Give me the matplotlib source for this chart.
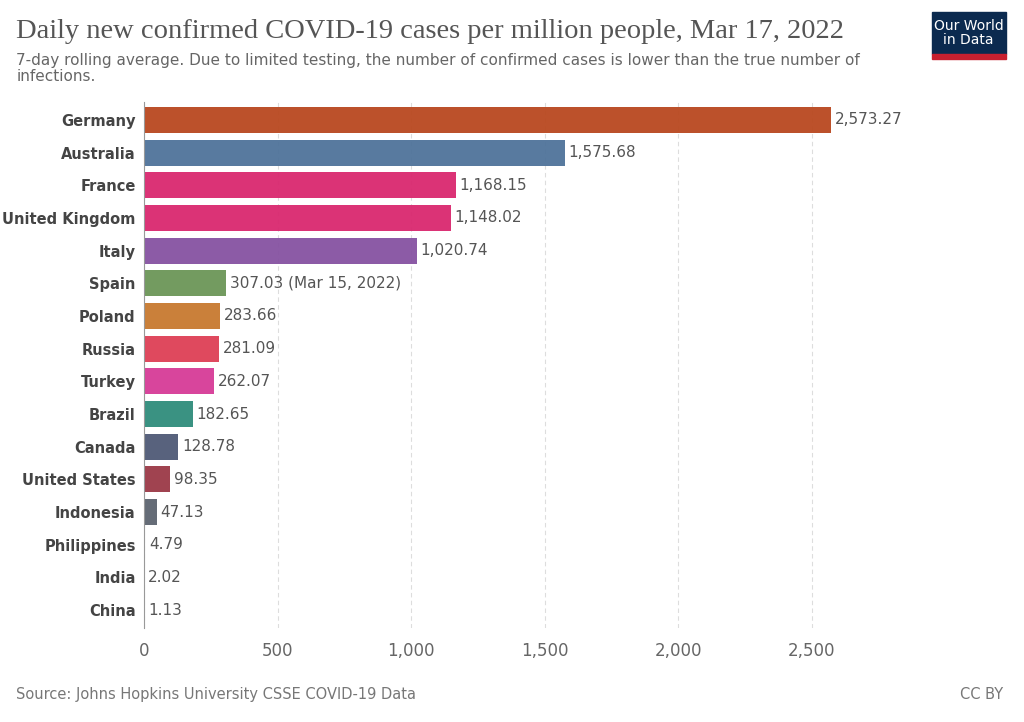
import matplotlib.pyplot as plt
from matplotlib.patches import Rectangle

countries = ["Germany", "Australia", "France", "United Kingdom", "Italy", "Spain",
             "Poland", "Russia", "Turkey", "Brazil", "Canada", "United States",
             "Indonesia", "Philippines", "India", "China"]
values = [2573.27, 1575.68, 1168.15, 1148.02, 1020.74, 307.03, 283.66, 281.09,
          262.07, 182.65, 128.78, 98.35, 47.13, 4.79, 2.02, 1.13]
labels = ["2,573.27", "1,575.68", "1,168.15", "1,148.02", "1,020.74",
          "307.03 (Mar 15, 2022)", "283.66", "281.09", "262.07", "182.65",
          "128.78", "98.35", "47.13", "4.79", "2.02", "1.13"]
colors = ["#b9481f", "#4f739a", "#d9286f", "#d9286f", "#8652a1", "#6b9657",
          "#c8792f", "#de3f55", "#d63b97", "#2f8c7b", "#4f5a76", "#9b3946",
          "#5d6470", "#c3324f", "#6b9657", "#4f739a"]

fig = plt.figure(figsize=(10.24, 7.22), dpi=100)
ax = fig.add_axes([144/1024, 1-628/722, 706/1024, 526/722])
y = list(range(len(countries)))
ax.barh(y, values, color=colors, height=0.8, alpha=0.95)
for yi, v, l in zip(y, values, labels):
    ax.text(v + 14, yi, l, va="center", ha="left", fontsize=11, color="#555555")
ax.set_yticks(y)
ax.set_yticklabels(countries, fontsize=10.5, fontweight="bold", color="#444444")
ax.set_ylim(len(countries) - 0.45, -0.55)
ax.set_xlim(0, 2644)
ax.set_xticks([0, 500, 1000, 1500, 2000, 2500])
ax.set_xticklabels(["0", "500", "1,000", "1,500", "2,000", "2,500"], fontsize=12, color="#666666")
ax.tick_params(axis="both", length=0, pad=10)
ax.tick_params(axis="y", pad=6)
ax.grid(axis="x", linestyle=(0, (4, 3)), color="#dddddd")
ax.set_axisbelow(True)
for s in ["top", "right", "bottom"]:
    ax.spines[s].set_visible(False)
ax.spines["left"].set_color("#999999")

fig.text(0.016, 0.957, "Daily new confirmed COVID-19 cases per million people, Mar 17, 2022",
         family="Liberation Serif", fontsize=20.5, color="#555555", va="center")
fig.text(0.016, 0.905, "7-day rolling average. Due to limited testing, the number of confirmed cases is lower than the true number of\ninfections.",
         fontsize=11, color="#666666", va="center", linespacing=1.1)
fig.text(0.016, 0.038, "Source: Johns Hopkins University CSSE COVID-19 Data", fontsize=10.5, color="#777777", va="center")
fig.text(0.98, 0.038, "CC BY", fontsize=10.5, color="#777777", va="center", ha="right")

fig.patches.append(Rectangle((0.91, 0.925), 0.072, 0.058, transform=fig.transFigure,
                             color="#0b2a4f", zorder=5))
fig.patches.append(Rectangle((0.91, 0.918), 0.072, 0.007, transform=fig.transFigure,
                             color="#c8202f", zorder=5))
fig.text(0.946, 0.954, "Our World\nin Data", ha="center", va="center", color="white",
         fontsize=10, linespacing=1.0, zorder=6)

fig.savefig("out.png")
